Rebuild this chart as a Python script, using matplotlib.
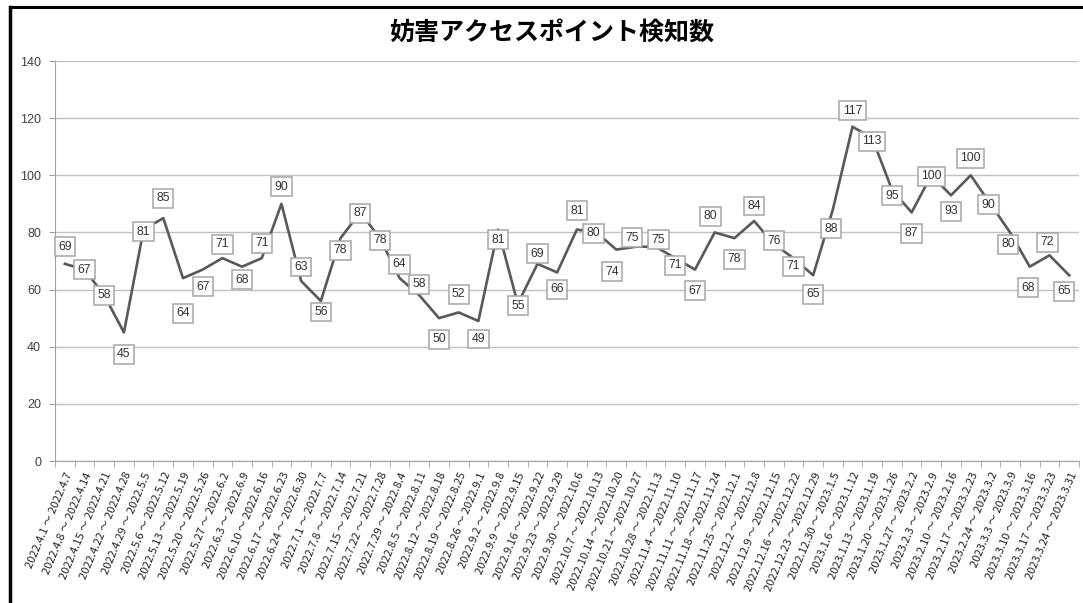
import matplotlib
matplotlib.use("Agg")
import matplotlib.pyplot as plt
from matplotlib.lines import Line2D

plt.rcParams['font.family'] = ['Noto Sans CJK JP', 'DejaVu Sans']

title = "妨害アクセスポイント検知数"

weeks = [
    "2022.4.1 ～ 2022.4.7", "2022.4.8 ～ 2022.4.14", "2022.4.15 ～ 2022.4.21",
    "2022.4.22 ～ 2022.4.28", "2022.4.29 ～ 2022.5.5", "2022.5.6 ～ 2022.5.12",
    "2022.5.13 ～ 2022.5.19", "2022.5.20 ～ 2022.5.26", "2022.5.27 ～ 2022.6.2",
    "2022.6.3 ～ 2022.6.9", "2022.6.10 ～ 2022.6.16", "2022.6.17 ～ 2022.6.23",
    "2022.6.24 ～ 2022.6.30", "2022.7.1 ～ 2022.7.7", "2022.7.8 ～ 2022.7.14",
    "2022.7.15 ～ 2022.7.21", "2022.7.22 ～ 2022.7.28", "2022.7.29 ～ 2022.8.4",
    "2022.8.5 ～ 2022.8.11", "2022.8.12 ～ 2022.8.18", "2022.8.19 ～ 2022.8.25",
    "2022.8.26 ～ 2022.9.1", "2022.9.2 ～ 2022.9.8", "2022.9.9 ～ 2022.9.15",
    "2022.9.16 ～ 2022.9.22", "2022.9.23 ～ 2022.9.29", "2022.9.30 ～ 2022.10.6",
    "2022.10.7 ～ 2022.10.13", "2022.10.14 ～ 2022.10.20", "2022.10.21 ～ 2022.10.27",
    "2022.10.28 ～ 2022.11.3", "2022.11.4 ～ 2022.11.10", "2022.11.11 ～ 2022.11.17",
    "2022.11.18 ～ 2022.11.24", "2022.11.25 ～ 2022.12.1", "2022.12.2 ～ 2022.12.8",
    "2022.12.9 ～ 2022.12.15", "2022.12.16 ～ 2022.12.22", "2022.12.23 ～ 2022.12.29",
    "2022.12.30 ～ 2023.1.5", "2023.1.6 ～ 2023.1.12", "2023.1.13 ～ 2023.1.19",
    "2023.1.20 ～ 2023.1.26", "2023.1.27 ～ 2023.2.2", "2023.2.3 ～ 2023.2.9",
    "2023.2.10 ～ 2023.2.16", "2023.2.17 ～ 2023.2.23", "2023.2.24 ～ 2023.3.2",
    "2023.3.3 ～ 2023.3.9", "2023.3.10 ～ 2023.3.16", "2023.3.17 ～ 2023.3.23",
    "2023.3.24 ～ 2023.3.31",
]

counts = [69, 67, 58, 45, 81, 85, 64, 67, 71, 68, 71, 90, 63, 56, 78, 87, 78,
          64, 58, 50, 52, 49, 81, 55, 69, 66, 81, 80, 74, 75, 75, 71, 67, 80,
          78, 84, 76, 71, 65, 88, 117, 113, 95, 87, 100, 93, 100, 90, 80, 68,
          72, 65]

# label box placement, pixels (dx right, dy down) from the point
label_offsets = [
    (0, -17), (0, 0), (0, 0), (0, 22), (0, 2), (0, -20), (0, 35), (0, 17),
    (0, -14), (0, 13), (0, -15), (0, -17), (0, -14), (0, 11), (0, 12), (0, 1),
    (0, 2), (0, -14), (0, -11), (0, 21), (0, -18), (0, 18), (0, 10), (0, 2),
    (0, -10), (0, 17), (0, -19), (-3, 1), (-4, 22), (-4, -9), (3, -7), (0, 7),
    (0, 21), (-4, -16), (0, 21), (0, -15), (0, -3), (0, 8), (0, 19), (-2, 19),
    (0, -16), (0, 3), (0, 6), (0, 21), (0, 1), (0, 16), (0, -17), (-2, 1),
    (-2, 12), (-2, 21), (-2, -13), (-5, 16),
]

fig = plt.figure(figsize=(10.83, 6.03), dpi=100)
ax = fig.add_axes([55 / 1083, 1 - 461 / 603, 1024 / 1083, 400 / 603])

x = list(range(len(counts)))
ax.plot(x, counts, color='#595959', lw=1.9, zorder=3)

for xi, v, (dx, dy) in zip(x, counts, label_offsets):
    ax.annotate(str(v), (xi, v), xytext=(dx, -dy), textcoords='offset pixels',
                ha='center', va='center', fontsize=8.8, color='#333333',
                family=['Liberation Sans', 'DejaVu Sans'], zorder=5,
                bbox=dict(boxstyle='square,pad=0.28', fc='white', ec='#a6a6a6', lw=1.1))

ax.set_xlim(-0.5, len(counts) - 0.5)
ax.set_ylim(0, 140)
ax.set_yticks(range(0, 141, 20))
ax.yaxis.grid(True, color='#c0c0c0', lw=1)
ax.set_axisbelow(True)
ax.tick_params(axis='y', length=4, color='#a0a0a0', labelsize=9,
               labelcolor='#404040', pad=6)
for t in ax.get_yticklabels():
    t.set_family(['Liberation Sans', 'DejaVu Sans'])

ax.set_xticks(x)
ax.set_xticklabels(weeks, rotation=67, ha='right', va='top',
                   rotation_mode='anchor', fontsize=8.0, color='#222222')
ax.tick_params(axis='x', which='major', length=0, pad=7)
ax.set_xticks([i - 0.5 for i in range(len(counts) + 1)], minor=True)
ax.tick_params(axis='x', which='minor', length=4, color='#a0a0a0')

for s in ['top', 'right']:
    ax.spines[s].set_visible(False)
for s in ['left', 'bottom']:
    ax.spines[s].set_color('#a0a0a0')

fig.text(552 / 1083, 1 - 33 / 603, title, ha='center', va='center',
         fontsize=18, fontweight='bold', color='black')

# outer chart frame (cut off at right and bottom)
fig.add_artist(Line2D([10 / 1083, 10 / 1083], [0, 1 - 7 / 603],
                      transform=fig.transFigure, color='black', lw=2.5))
fig.add_artist(Line2D([10 / 1083, 1], [1 - 7 / 603, 1 - 7 / 603],
                      transform=fig.transFigure, color='black', lw=2.2))

fig.savefig('out.png', dpi=100)
